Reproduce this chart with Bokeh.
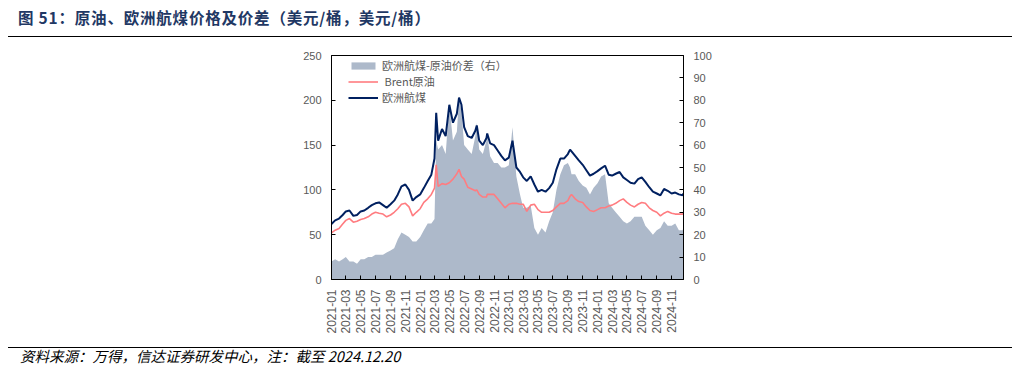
import math
import pandas as pd
from bokeh.plotting import figure
from bokeh.layouts import column
from bokeh.models import (ColumnDataSource, Range1d, LinearAxis, FixedTicker,
                          DatetimeTickFormatter, Legend, LegendItem, Div)
from bokeh.embed import file_html
from bokeh.resources import INLINE

# ---------------- data ----------------
dates = [
    "2021-01-01", "2021-01-16", "2021-02-01", "2021-02-16", "2021-03-01", "2021-03-16",
    "2021-04-01", "2021-04-16", "2021-05-01", "2021-05-16", "2021-06-01", "2021-06-16",
    "2021-07-01", "2021-07-16", "2021-08-01", "2021-08-16", "2021-09-01", "2021-09-16",
    "2021-10-01", "2021-10-16", "2021-11-01", "2021-11-16", "2021-12-01", "2021-12-16",
    "2022-01-01", "2022-01-16", "2022-02-01", "2022-02-16", "2022-03-01", "2022-03-08",
    "2022-03-16", "2022-04-01", "2022-04-16", "2022-05-01", "2022-05-16", "2022-06-01",
    "2022-06-10", "2022-06-20", "2022-07-01", "2022-07-16", "2022-08-01", "2022-08-16",
    "2022-08-22", "2022-09-01", "2022-09-16", "2022-10-01", "2022-10-04", "2022-10-16",
    "2022-11-01", "2022-11-16", "2022-12-01", "2022-12-16", "2023-01-01", "2023-01-16",
    "2023-02-01", "2023-02-16", "2023-03-01", "2023-03-16", "2023-04-01", "2023-04-16",
    "2023-05-01", "2023-05-16", "2023-06-01", "2023-06-16", "2023-07-01", "2023-07-16",
    "2023-08-01", "2023-08-16", "2023-09-01", "2023-09-10", "2023-09-16", "2023-10-01",
    "2023-10-16", "2023-11-01", "2023-11-16", "2023-12-01", "2023-12-16", "2024-01-01",
    "2024-01-16", "2024-02-01", "2024-02-16", "2024-03-01", "2024-03-16", "2024-04-01",
    "2024-04-16", "2024-05-01", "2024-05-16", "2024-06-01", "2024-06-16", "2024-07-01",
    "2024-07-16", "2024-08-01", "2024-08-16", "2024-09-01", "2024-09-16", "2024-10-01",
    "2024-10-16", "2024-11-01", "2024-11-16", "2024-12-01", "2024-12-16", "2024-12-20",
]

jet = [
    62, 66, 68, 72, 76, 77, 71, 72, 76, 77, 80, 83,
    85, 86, 83, 80, 84, 88, 95, 104, 106, 100, 88, 92,
    95, 102, 110, 117, 135, 186, 155, 168, 160, 195, 175, 185,
    203, 195, 170, 160, 158, 166, 172, 155, 150, 158, 163, 152,
    150, 144, 138, 133, 136, 155, 125, 120, 114, 110, 115, 106,
    98, 100, 98, 102, 108, 123, 135, 135, 140, 145, 143, 138,
    133, 128, 122, 116, 118, 121, 124, 127, 117, 116, 118, 120,
    114, 111, 108, 107, 112, 114, 109, 103, 98, 96, 94, 101,
    99, 96, 97, 95, 94, 96,
]

brent = [
    52, 55, 57, 62, 66, 68, 64, 65, 67, 68, 70, 73,
    75, 74, 73, 70, 72, 75, 79, 84, 85, 81, 71, 75,
    79, 86, 90, 95, 102, 128, 104, 107, 106, 108, 112, 118,
    123, 115, 112, 103, 101, 99, 100, 95, 92, 92, 95, 95,
    95, 90, 85, 80, 84, 85, 85, 84, 84, 76, 83, 84,
    78, 75, 75, 75, 77, 81, 85, 85, 88, 93, 95, 90,
    87, 86, 81, 77, 76, 78, 80, 80, 82, 83, 85, 88,
    90, 86, 83, 81, 84, 86, 85, 80, 77, 75, 71, 74,
    76, 74, 73, 73, 73, 74,
]

spread = [
    8, 9, 8, 9, 10, 8, 8, 7, 9, 9, 10, 10,
    11, 11, 11, 12, 13, 14, 18, 21, 20, 19, 17, 17,
    19, 22, 25, 25, 27, 62, 58, 60, 56, 78, 62, 66,
    81, 75, 60, 58, 56, 64, 70, 58, 56, 62, 65, 55,
    52, 52, 50, 50, 51, 68, 46, 38, 32, 32, 33, 23,
    20, 23, 21, 26, 30, 40, 47, 51, 52, 50, 47, 47,
    44, 42, 41, 38, 41, 43, 46, 47, 34, 32, 30, 28,
    26, 25, 26, 28, 28, 28, 24, 22, 20, 22, 23, 26,
    24, 24, 25, 22, 22, 23,
]

tick_months = [
    "2021-01", "2021-03", "2021-05", "2021-07", "2021-09", "2021-11",
    "2022-01", "2022-03", "2022-05", "2022-07", "2022-09", "2022-11",
    "2023-01", "2023-03", "2023-05", "2023-07", "2023-09", "2023-11",
    "2024-01", "2024-03", "2024-05", "2024-07", "2024-09", "2024-11",
]
left_ticks = [0, 50, 100, 150, 200, 250]
right_ticks = [0, 10, 20, 30, 40, 50, 60, 70, 80, 90, 100]

title_text = "图 51：原油、欧洲航煤价格及价差（美元/桶，美元/桶）"
source_text = "资料来源：万得，信达证券研发中心，注：截至 2024.12.20"
legend_labels = ["欧洲航煤-原油价差（右）", " Brent原油", "欧洲航煤"]

# ---------------- styles ----------------
CJK = "Noto Sans CJK SC"
NUM = "Liberation Sans"
AREA_C = "#adb9ca"
BRENT_C = "#ff7c80"
JET_C = "#002060"
TITLE_C = "#1f3864"
TXT_C = "#595959"
W = 1017

src = ColumnDataSource(dict(
    date=pd.to_datetime(dates),
    jet=jet, brent=brent, spread=spread,
))

# ---------------- header ----------------
header = Div(
    text=(
        f'<div style="position:relative;width:{W}px;height:40px;">'
        f'<div style="position:absolute;left:18px;top:7px;font-family:\'{CJK}\';'
        f'font-weight:bold;font-size:15.5px;line-height:20px;color:{TITLE_C};'
        f'letter-spacing:0.8px;white-space:nowrap;">{title_text}</div>'
        f'<div style="position:absolute;left:8px;top:36px;width:1004px;height:1px;'
        f'background:#000;"></div></div>'
    ),
    width=W, height=40, margin=0,
)

# ---------------- main chart ----------------
x0 = pd.Timestamp("2021-01-01")
x1 = pd.Timestamp("2024-12-20")
p = figure(width=W, height=300, x_axis_type="datetime",
           x_range=Range1d(x0, x1), y_range=Range1d(0, 250),
           toolbar_location=None, output_backend="svg", title=None,
           min_border_left=331, min_border_right=334,
           min_border_top=15, min_border_bottom=61, margin=0)
p.extra_y_ranges = {"right": Range1d(0, 100)}
p.grid.visible = False
p.outline_line_color = "black"
p.outline_line_width = 1

r_area = p.varea(x="date", y1=0, y2="spread", source=src, y_range_name="right",
                 fill_color=AREA_C, fill_alpha=1.0)
r_brent = p.line(x="date", y="brent", source=src, line_color=BRENT_C, line_width=1.6)
r_jet = p.line(x="date", y="jet", source=src, line_color=JET_C, line_width=2)

tick_ms = [pd.Timestamp(m + "-01").value // 10**6 for m in tick_months]
xa = p.xaxis[0]
xa.ticker = FixedTicker(ticks=tick_ms)
fmt = "%Y-%m"
xa.formatter = DatetimeTickFormatter(milliseconds=fmt, seconds=fmt, minsec=fmt, minutes=fmt,
                                     hourmin=fmt, hours=fmt, days=fmt, months=fmt, years=fmt)
xa.major_label_orientation = math.pi / 2
xa.major_label_standoff = 10

ya = p.yaxis[0]
ya.ticker = FixedTicker(ticks=left_ticks)

ra = LinearAxis(y_range_name="right", ticker=FixedTicker(ticks=right_ticks))
p.add_layout(ra, "right")

for ax in [xa, ya, ra]:
    ax.major_tick_in = 4
    ax.major_tick_out = 0
    ax.minor_tick_line_color = None
    ax.axis_line_color = "black"
    ax.major_tick_line_color = "black"
    ax.major_label_text_font = NUM
    ax.major_label_text_font_size = "11px"
    ax.major_label_text_color = TXT_C
xa.major_label_text_font_size = "12px"
ya.major_label_standoff = 10
ra.major_label_standoff = 10

legend = Legend(items=[
    LegendItem(label=legend_labels[0], renderers=[r_area]),
    LegendItem(label=legend_labels[1], renderers=[r_brent]),
    LegendItem(label=legend_labels[2], renderers=[r_jet]),
], location=(17, 174))
legend.background_fill_alpha = 0
legend.border_line_color = None
legend.padding = 0
legend.margin = 0
legend.spacing = -1
legend.glyph_width = 30
legend.glyph_height = 9
legend.label_height = 14
legend.label_standoff = 4
legend.label_text_font = CJK
legend.label_text_font_size = "11px"
legend.label_text_color = TXT_C
p.add_layout(legend)

# ---------------- footer ----------------
footer = Div(
    text=(
        f'<div style="position:relative;width:{W}px;height:35px;">'
        f'<div style="position:absolute;left:8px;top:7px;width:1004px;height:1px;'
        f'background:#000;"></div>'
        f'<div style="position:absolute;left:20px;top:6px;font-family:\'{CJK}\';'
        f'font-style:italic;font-size:14.5px;line-height:20px;color:#000;'
        f'white-space:nowrap;">{source_text}</div></div>'
    ),
    width=W, height=35, margin=0,
)

layout = column(header, p, footer, spacing=0, margin=0)
open("out.html", "w").write(file_html(layout, INLINE))
